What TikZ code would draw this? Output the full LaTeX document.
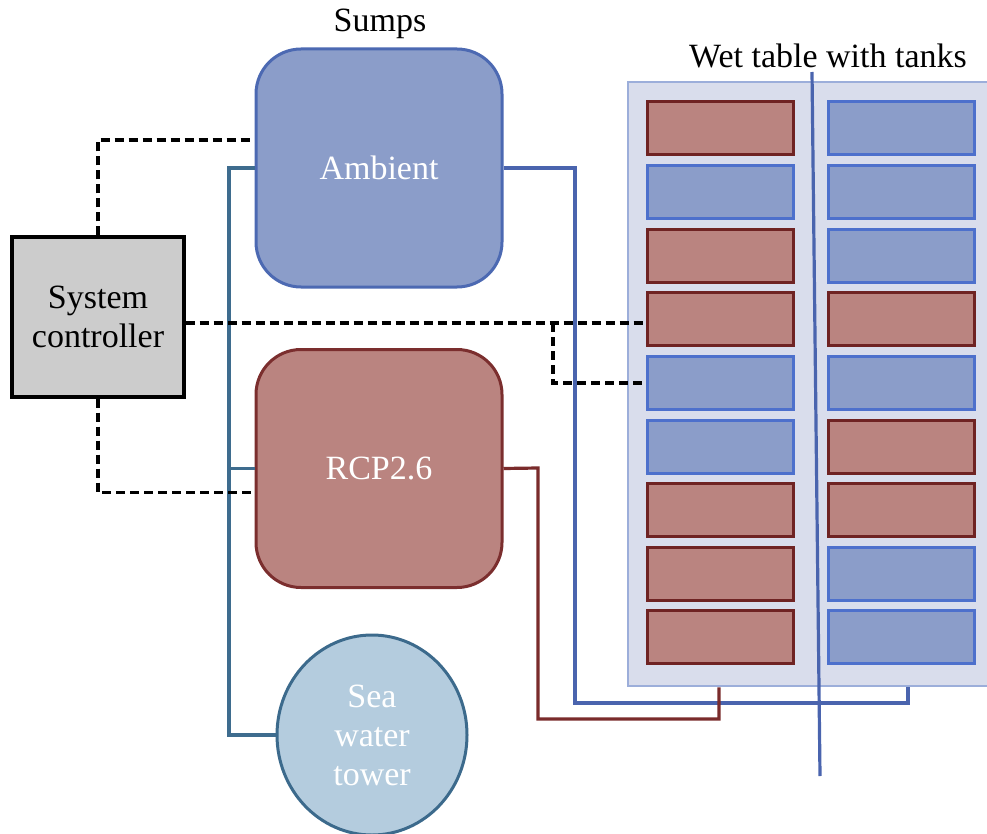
\documentclass[tikz,border=0pt]{standalone}
\usepackage{fontspec}
\setmainfont{Liberation Serif}
\usetikzlibrary{shapes.geometric}
\definecolor{ambfill}{HTML}{8B9DC9}
\definecolor{ambline}{HTML}{4C69B2}
\definecolor{rcpfill}{HTML}{BA8480}
\definecolor{rcpline}{HTML}{7B2E2E}
\definecolor{tankred}{HTML}{6F2323}
\definecolor{tankblue}{HTML}{4D70CC}
\definecolor{tablefill}{HTML}{D9DDEC}
\definecolor{tableline}{HTML}{9CAEDA}
\definecolor{seafill}{HTML}{B4CCDE}
\definecolor{sealine}{HTML}{3C6A8C}
\definecolor{tealpipe}{HTML}{3E6C8E}
\definecolor{bluepipe}{HTML}{4A64AE}
\definecolor{redpipe}{HTML}{7A2B2B}
\definecolor{ctrlfill}{HTML}{CCCCCC}
\tikzset{
  txt/.style={font=\fontsize{34}{39}\selectfont, align=center, inner sep=0pt},
  sump/.style={txt, text=white, rectangle, rounded corners=45pt, line width=3pt,
    minimum width=246pt, minimum height=238pt},
  tankR/.style={rectangle, fill=rcpfill, draw=tankred, line width=3pt,
    minimum width=146pt, minimum height=53pt},
  tankB/.style={rectangle, fill=ambfill, draw=tankblue, line width=3pt,
    minimum width=146pt, minimum height=53pt},
  ctl/.style={black, line width=3.2pt, dash pattern=on 9pt off 5pt},
  pipe/.style={line width=3.2pt}
}
\begin{document}
\begin{tikzpicture}[x=1pt,y=-1pt]
\useasboundingbox (0,0) rectangle (987,834);
\clip (0,0) rectangle (987,834);

% wet table and its tanks
\node[rectangle, fill=tablefill, draw=tableline, line width=2.8pt,
  minimum width=364pt, minimum height=604pt] (wt) at (810,384) {};
\foreach \i/\L/\R in {1/R/B,2/B/B,3/R/B,4/R/R,5/B/B,6/B/R,7/R/R,8/R/B,9/R/B}{
  \node[tank\L] (L\i) at (720,{128.5+63.6*(\i-1)}) {};
  \node[tank\R] (R\i) at (901.5,{128.5+63.6*(\i-1)}) {};
}
\node[txt, anchor=base] (wtlabel) at (828,68) {Wet table with tanks};

% sumps, controller and tower
\node[sump, fill=ambfill, draw=ambline] (amb) at (379,168) {Ambient};
\node[sump, fill=rcpfill, draw=rcpline] (rcp) at (379,468.5) {RCP2.6};
\node[txt, anchor=base] (sumps) at (380,32) {Sumps};
\node[txt, rectangle, fill=ctrlfill, draw=black, line width=3.2pt,
  minimum width=172pt, minimum height=160pt] (ctrl) at (98,317) {System\\controller};
\node[txt, text=white, ellipse, fill=seafill, draw=sealine, line width=3pt,
  minimum width=190pt, minimum height=200pt] (sea) at (372,735) {Sea\\water\\tower};

% seawater supply
\coordinate (tl) at (229,168);
\draw[pipe, tealpipe] (amb.west) -- (tl) |- (sea.west);
\draw[pipe, tealpipe] (rcp.west) -- (rcp.west -| tl);

% returns and supply lines to the table
\coordinate (bj) at (wt.south -| 908,0);
\coordinate (rj) at (wt.south -| 719,0);
\draw[pipe, bluepipe] (amb.east) -- (575,168) -- (575,703) -- (908,703) -- (bj);
\draw[pipe, redpipe] (rcp.east) -- (538,468) -- (538,719) -- (719,719) -- (rj);

% divider across the table
\coordinate (d1) at (812,72);
\coordinate (d2) at (820,776);
\draw[pipe, bluepipe] (d1) -- (d2);

% control lines
\draw[ctl] (ctrl.north) |- ([yshift=28pt]amb.west);
\draw[ctl] (ctrl.south) |- ([yshift=-24pt]rcp.west);
\draw[ctl] ([yshift=-6pt]ctrl.east) -- ([yshift=-6pt]ctrl.east -| L4.west);
\coordinate (br) at (553,323);
\draw[ctl] (br) |- (L5.west);
\end{tikzpicture}
\end{document}
